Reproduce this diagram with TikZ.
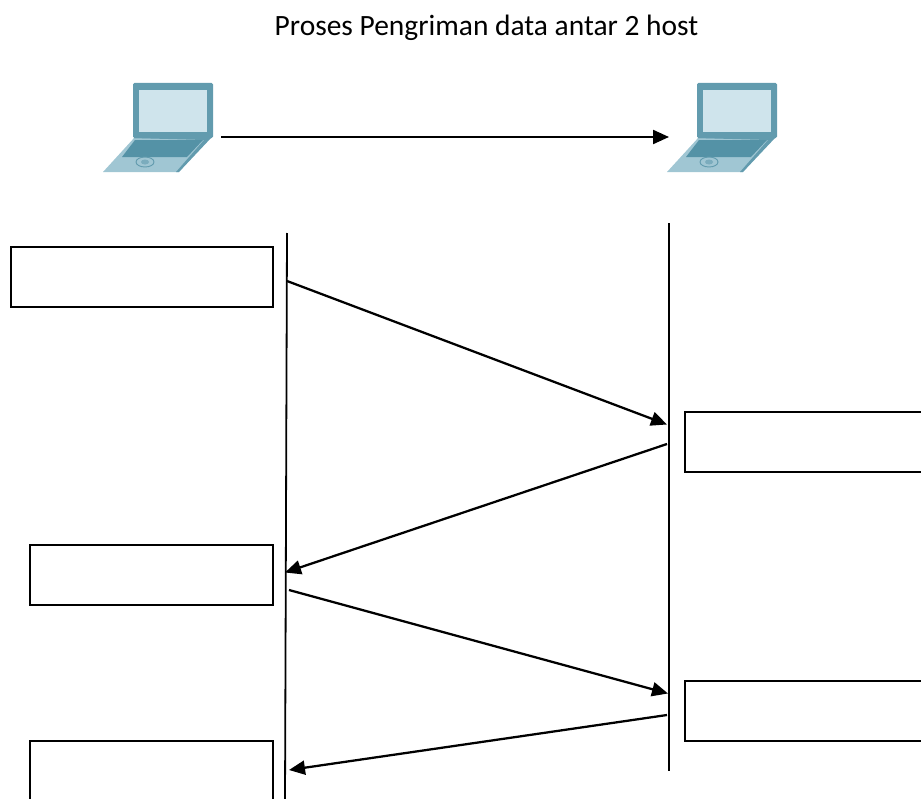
\documentclass[tikz,border=0pt]{standalone}
\usepackage{fontspec}
\setmainfont{Carlito}
\usetikzlibrary{arrows.meta}
\definecolor{lapdark}{RGB}{98,155,174}
\definecolor{lapscreen}{RGB}{207,228,236}
\definecolor{lapbase}{RGB}{160,198,211}
\definecolor{lapkeys}{RGB}{84,146,166}
\tikzset{
  x=0.75pt,y=-0.75pt,
  msgbox/.style={draw=black,line width=1.5pt,fill=white,anchor=north west,inner sep=0pt,minimum height=59*0.75pt},
  lifeline/.style={draw=black,line width=1.35pt},
  msg/.style={draw=black,line width=1.7pt,-{Triangle[length=12pt,width=10.5pt]}},
  pics/laptop/.style={code={
    \fill[lapbase] (135,137)--(209,137)--(179,172)--(103,172)--cycle;
    \fill[lapdark,rounded corners=1pt] (133,83) rectangle (213,138);
    \fill[lapscreen] (139,90) rectangle (207,132);
    \fill[lapdark] (133,138)--(211,138)--(179,172)--(176,172)--(204,140)--cycle;
    \fill[lapkeys] (135,140)--(203,140)--(187,157)--(122,157)--cycle;
    \draw[lapdark,line width=0.7pt] (145,162) ellipse [x radius=9,y radius=5];
    \fill[lapdark!60!lapbase] (145,162) ellipse [x radius=4,y radius=2.5];
  }}
}
\begin{document}
\begin{tikzpicture}
\useasboundingbox (0,0) rectangle (921,799);
\clip (0,0) rectangle (921,799);
\node[font=\fontsize{22.1pt}{26pt}\selectfont,anchor=center] (title) at (486.5,28) {Proses Pengriman data antar 2 host};
\pic at (0,0) {laptop};
\pic at (564,0) {laptop};
\coordinate (lapA) at (221,137);
\coordinate (lapB) at (669,137);
\draw[msg] (lapA) -- (lapB);
\coordinate (lTop) at (287,233);
\coordinate (lBot) at (285,802);
\coordinate (rTop) at (669,223);
\coordinate (rBot) at (669,771);
\draw[lifeline] (lTop) -- (lBot);
\draw[lifeline] (rTop) -- (rBot);
\node[msgbox,minimum width=262*0.75pt,minimum height=60*0.75pt] (b1) at (9.5,245.5) {};
\node[msgbox,minimum width=250*0.75pt,minimum height=60*0.75pt] (b2) at (683.5,410.5) {};
\node[msgbox,minimum width=243*0.75pt,minimum height=60*0.75pt] (b3) at (28.5,543.5) {};
\node[msgbox,minimum width=250*0.75pt,minimum height=60*0.75pt] (b4) at (683.5,679.5) {};
\node[msgbox,minimum width=243*0.75pt,minimum height=70*0.75pt] (b5) at (28.5,739.5) {};
\coordinate (m1s) at (287,281);
\coordinate (m1e) at (667,424.5);
\coordinate (m2s) at (667,444);
\coordinate (m2e) at (285,572.5);
\coordinate (m3s) at (289,590);
\coordinate (m3e) at (668,693.5);
\coordinate (m4s) at (667,715);
\coordinate (m4e) at (289,770);
\draw[msg] (m1s) -- (m1e);
\draw[msg] (m2s) -- (m2e);
\draw[msg] (m3s) -- (m3e);
\draw[msg] (m4s) -- (m4e);
\end{tikzpicture}
\end{document}
